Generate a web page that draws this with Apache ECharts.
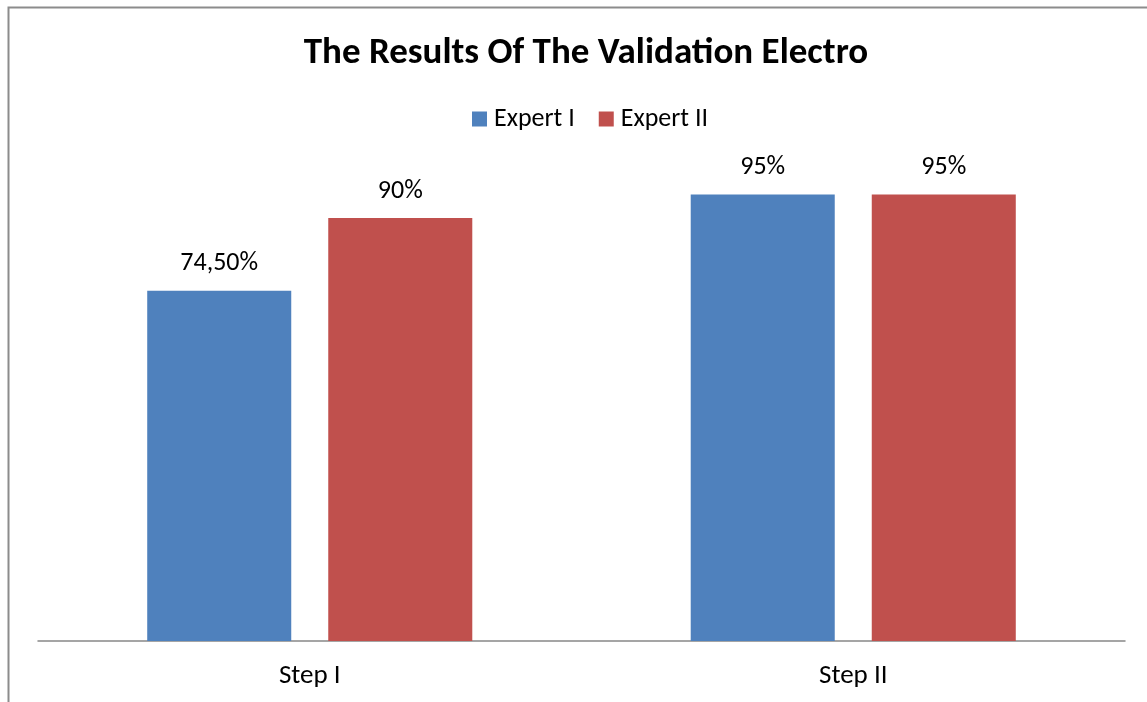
<!DOCTYPE html>
<html>
<head>
<meta charset="utf-8">
<script src="https://cdn.jsdelivr.net/npm/echarts@6/dist/echarts.min.js"></script>
<style>
  html, body { margin: 0; padding: 0; background: #fff; }
  #main { width: 1147px; height: 702px; }
</style>
</head>
<body>
<div id="main"></div>
<script>
// data
const steps = ['Step I', 'Step II'];
const expert1 = [74.5, 95];
const expert2 = [90, 95];

const font = 'Carlito, Lato, "Open Sans", sans-serif';

// 74.5 -> "74,50%", 90 -> "90%"
function pct(v) {
  if (Number.isInteger(v)) return v + '%';
  return v.toFixed(2).replace('.', ',') + '%';
}

let myChart = echarts.init(document.getElementById('main'));
myChart.setOption({
  animation: false,
  textStyle: { fontFamily: font },
  title: {
    text: 'The Results Of The Validation Electro',
    left: 581, textAlign: 'center', top: 30,
    textStyle: { fontSize: 37, fontWeight: 'bold', color: '#000', fontFamily: font }
  },
  legend: {
    top: 101, left: 467,
    itemWidth: 15, itemHeight: 15, itemGap: 24,
    icon: 'rect',
    textStyle: { fontSize: 26, color: '#000', fontFamily: font, padding: [0, 0, 0, 2] }
  },
  graphic: [{
    type: 'rect',
    shape: { x: 8.5, y: 7.5, width: 1300, height: 900 },
    style: { fill: 'none', stroke: '#8c8c8c', lineWidth: 2 }
  }],
  grid: { left: 38, right: 22, top: 171, bottom: 61 },
  xAxis: {
    type: 'category',
    data: steps,
    axisLine: { lineStyle: { color: '#888', width: 1.5 } },
    axisTick: { show: false },
    axisLabel: { fontSize: 27, color: '#000', margin: 22, fontFamily: font }
  },
  yAxis: {
    type: 'value', min: 0, max: 100, show: false,
    splitLine: { show: false }
  },
  series: [
    {
      name: 'Expert I', type: 'bar', data: expert1,
      barWidth: '26.5%', barGap: '25.7%',
      itemStyle: { color: '#4f81bd' },
      label: { show: true, position: 'top', distance: 14, fontSize: 26, color: '#000',
        fontFamily: font, formatter: p => pct(p.value) }
    },
    {
      name: 'Expert II', type: 'bar', data: expert2,
      barWidth: '26.5%',
      itemStyle: { color: '#c0504d' },
      label: { show: true, position: 'top', distance: 14, fontSize: 26, color: '#000',
        fontFamily: font, formatter: p => pct(p.value) }
    }
  ]
});
</script>
</body>
</html>
